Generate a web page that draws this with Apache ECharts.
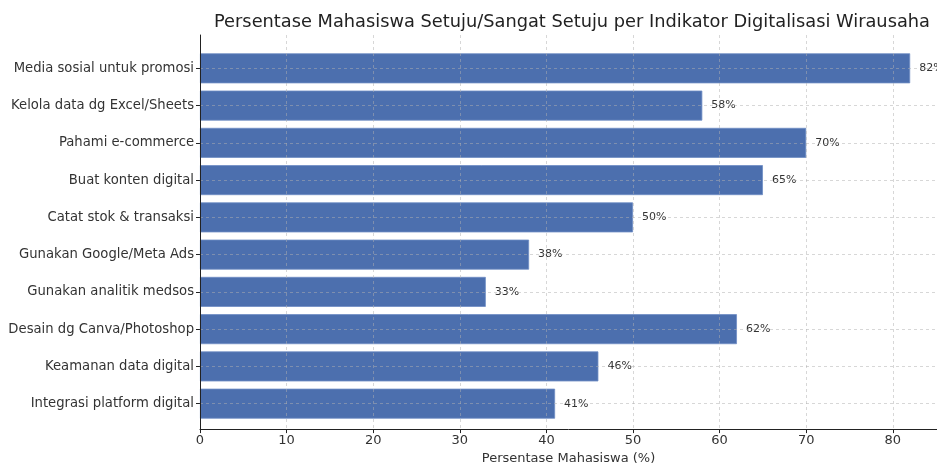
<!DOCTYPE html>
<html>
<head>
<meta charset="utf-8">
<script src="https://cdn.jsdelivr.net/npm/echarts@6/dist/echarts.min.js"></script>
<style>
html,body{margin:0;padding:0;background:#fff;}
#chart{width:937px;height:470px;}
</style>
</head>
<body>
<div id="chart"></div>
<script>
const titleText = "Persentase Mahasiswa Setuju/Sangat Setuju per Indikator Digitalisasi Wirausaha";
const xAxisName = "Persentase Mahasiswa (%)";
const categories = [
  "Media sosial untuk promosi",
  "Kelola data dg Excel/Sheets",
  "Pahami e-commerce",
  "Buat konten digital",
  "Catat stok & transaksi",
  "Gunakan Google/Meta Ads",
  "Gunakan analitik medsos",
  "Desain dg Canva/Photoshop",
  "Keamanan data digital",
  "Integrasi platform digital"
];
const values = [82, 58, 70, 65, 50, 38, 33, 62, 46, 41];
const xTicks = [0, 10, 20, 30, 40, 50, 60, 70, 80];

const FONT = "DejaVu Sans";
const xMax = 85.1;
const gridLine = "rgba(175,175,175,0.5)";

const chart = echarts.init(document.getElementById('chart'), null, {renderer: 'canvas'});
chart.setOption({
  animation: false,
  backgroundColor: '#fff',
  textStyle: {fontFamily: FONT},
  graphic: [{
    type: 'text', x: 572, y: 22, z: 10,
    style: {text: titleText, fontFamily: FONT, fontSize: 17.8, fill: '#222',
            textAlign: 'center', textVerticalAlign: 'middle'}
  }],
  grid: [
    {left: 200, top: 35, right: 0, height: 401, containLabel: false},
    {left: 200, top: 49.7, right: 0, height: 372.6, containLabel: false}
  ],
  xAxis: [
    {gridIndex: 0, type: 'value', min: 0, max: xMax, interval: 10, z: 5,
     axisLine: {show: true, lineStyle: {color: '#222', width: 1}},
     axisTick: {show: true, length: 4, lineStyle: {color: '#222'}},
     axisLabel: {fontSize: 13, color: '#333', margin: 5, fontFamily: FONT, showMaxLabel: false,
                 formatter: v => xTicks.includes(v) ? String(v) : ''},
     splitLine: {show: true, lineStyle: {type: [3, 3], color: gridLine, width: 1}},
     name: xAxisName, nameLocation: 'middle', nameGap: 22,
     nameTextStyle: {fontSize: 13, color: '#333', fontFamily: FONT}
    },
    {gridIndex: 1, type: 'value', min: 0, max: xMax, show: false}
  ],
  yAxis: [
    {gridIndex: 0, type: 'value', min: 0, max: 1, z: 5,
     axisLine: {show: true, lineStyle: {color: '#222', width: 1}},
     axisTick: {show: false}, axisLabel: {show: false}, splitLine: {show: false}},
    {gridIndex: 1, type: 'category', data: categories, inverse: true,
     axisLine: {show: false},
     axisTick: {show: true, alignWithLabel: true, length: 4, lineStyle: {color: '#222'}},
     axisLabel: {fontSize: 13.2, color: '#333', margin: 6, fontFamily: FONT},
     splitLine: {show: false}}
  ],
  series: [{
    type: 'bar', xAxisIndex: 1, yAxisIndex: 1,
    data: values, barWidth: 30,
    itemStyle: {color: '#4c6fae', borderColor: '#6f8dc4', borderWidth: 0.8},
    label: {show: true, position: 'right', distance: 9, formatter: '{c}%',
            fontSize: 11, color: '#333', fontFamily: FONT},
    markLine: {
      silent: true, symbol: 'none', z: 5,
      label: {show: false},
      lineStyle: {type: [3, 3], color: gridLine, width: 1},
      data: categories.map(c => ({yAxis: c}))
    }
  }]
});
</script>
</body>
</html>
